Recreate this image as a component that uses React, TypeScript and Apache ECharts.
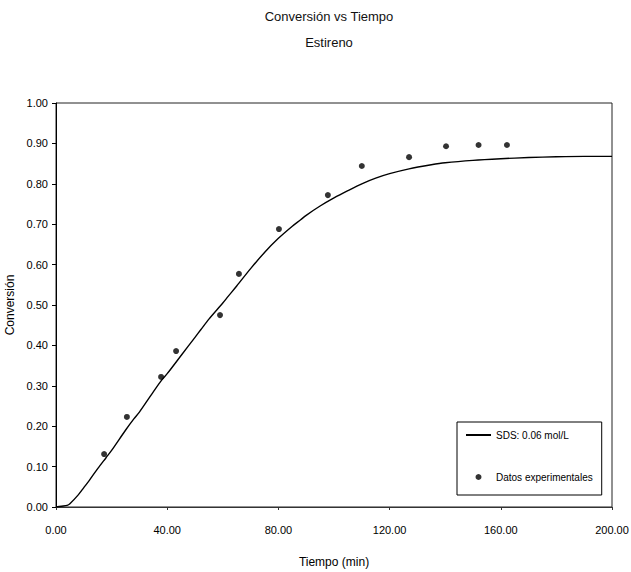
import React, { useEffect, useRef } from "react";
import * as echarts from "echarts";

const titleLines = ["Conversión vs Tiempo", "Estireno"];
const xAxisName = "Tiempo (min)";
const yAxisName = "Conversión";
const modelName = "SDS: 0.06 mol/L";
const expName = "Datos experimentales";

// Model curve (time in min, conversion)
const modelTime = [0, 2, 4, 5, 8, 10, 12, 15, 18, 20, 25, 28, 30, 35, 38, 40, 45, 50, 52, 55, 60, 62, 65, 70, 75, 80, 85, 88, 90, 95, 100, 105, 110, 115, 120, 127, 135, 140, 150, 160, 170, 180, 190, 200];
const modelConv = [0, 0.002, 0.004, 0.008, 0.03, 0.048, 0.066, 0.095, 0.122, 0.14, 0.19, 0.218, 0.235, 0.285, 0.314, 0.33, 0.375, 0.42, 0.438, 0.465, 0.505, 0.522, 0.547, 0.59, 0.63, 0.665, 0.695, 0.711, 0.722, 0.745, 0.765, 0.783, 0.8, 0.814, 0.825, 0.837, 0.847, 0.852, 0.858, 0.862, 0.865, 0.867, 0.868, 0.868];

// Experimental data
const expTime = [17.3, 25.5, 37.8, 43.2, 59, 65.8, 80.2, 97.8, 110, 127, 140.3, 152, 162.2];
const expConv = [0.131, 0.223, 0.322, 0.386, 0.475, 0.577, 0.688, 0.772, 0.844, 0.866, 0.893, 0.896, 0.896];

const FONT = "'Liberation Sans', Arial, sans-serif";

export default function App() {
  const ref = useRef<HTMLDivElement>(null);
  useEffect(() => {
    if (!ref.current) return;
    const chart = echarts.init(ref.current, null, { renderer: "svg" });
    chart.setOption({
      animation: false,
      backgroundColor: "#fff",
      textStyle: { fontFamily: FONT },
      title: {
        text: titleLines.join("\n"),
        left: 329,
        textAlign: "center",
        top: 3,
        padding: 0,
        textStyle: { fontFamily: FONT, fontSize: 13, fontWeight: "normal", color: "#111", lineHeight: 26 },
      },
      grid: {
        left: 56, top: 103, right: 19, bottom: 65,
        outerBoundsMode: "none",
        containLabel: false,
        show: true, borderColor: "#222", borderWidth: 1, backgroundColor: "#fff",
      },
      legend: {
        orient: "vertical",
        left: 457,
        top: 422,
        padding: [6, 9, 11, 8],
        itemGap: 28,
        itemWidth: 25,
        itemHeight: 6,
        borderColor: "#000",
        borderWidth: 1,
        borderRadius: 0,
        backgroundColor: "#fff",
        textStyle: { fontFamily: FONT, fontSize: 10, color: "#000", lineHeight: 14 },
        data: [
          { name: modelName, itemStyle: { opacity: 0 } },
          { name: expName, icon: "circle" },
        ],
      },
      xAxis: {
        type: "value",
        min: 0,
        max: 200,
        interval: 40,
        name: xAxisName,
        nameLocation: "middle",
        nameGap: 49,
        nameTextStyle: { fontFamily: FONT, fontSize: 12, color: "#000" },
        axisLine: { lineStyle: { color: "#333", width: 1 } },
        axisTick: { show: true, length: 3, lineStyle: { color: "#333" } },
        axisLabel: { margin: 17, fontFamily: FONT, fontSize: 11, color: "#000", formatter: (v: number) => v.toFixed(2) },
        splitLine: { show: false },
      },
      yAxis: {
        type: "value",
        min: 0,
        max: 1,
        interval: 0.1,
        name: yAxisName,
        nameLocation: "middle",
        nameGap: 31,
        nameRotate: 90,
        nameTextStyle: { fontFamily: FONT, fontSize: 12, color: "#000" },
        axisLine: { show: true, lineStyle: { color: "#000", width: 1 } },
        axisTick: { show: true, length: 4, lineStyle: { color: "#000" } },
        axisLabel: { margin: 8, fontFamily: FONT, fontSize: 11, color: "#000", formatter: (v: number) => v.toFixed(2) },
        splitLine: { show: false },
      },
      series: [
        {
          name: modelName,
          type: "line",
          symbol: "none",
          smooth: 0.3,
          data: modelTime.map((t, i) => [t, modelConv[i]]),
          lineStyle: { color: "#000", width: 1.4 },
          itemStyle: { color: "#000" },
        },
        {
          name: expName,
          type: "scatter",
          symbol: "circle",
          symbolSize: 6,
          data: expTime.map((t, i) => [t, expConv[i]]),
          itemStyle: { color: "#000" },
        },
      ],
    });
    return () => chart.dispose();
  }, []);
  return <div ref={ref} style={{ width: 631, height: 572, position: "absolute", left: 0, top: 0 }} />;
}
